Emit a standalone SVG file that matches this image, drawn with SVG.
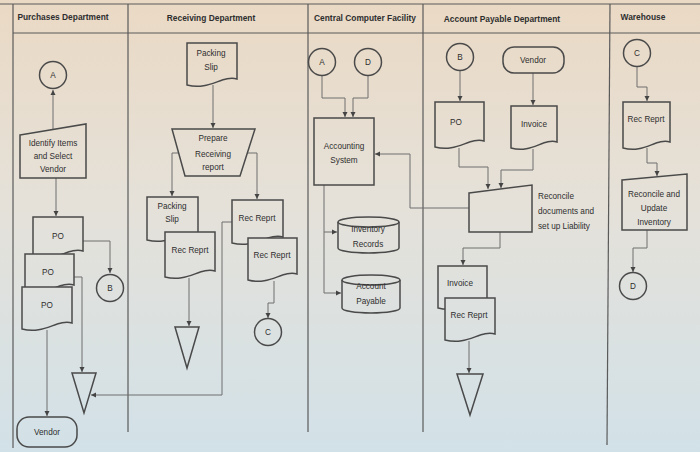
<svg xmlns="http://www.w3.org/2000/svg" width="700" height="452" viewBox="0 0 700 452">
<defs>
<linearGradient id="bg" gradientUnits="userSpaceOnUse" x1="0" y1="0" x2="0" y2="452">
<stop offset="0" stop-color="#ead9c4"/>
<stop offset="0.45" stop-color="#e5e1d9"/>
<stop offset="1" stop-color="#d2e1e8"/>
</linearGradient>
<marker id="ah" markerWidth="6" markerHeight="6" refX="5" refY="3" orient="auto" markerUnits="userSpaceOnUse">
<path d="M0,0.5 L5,3 L0,5.5 Z" fill="#444"/>
</marker>
<style>
.sh{fill:url(#bg);stroke:#4a4a4a;stroke-width:1.5}
.cn{fill:none;stroke:#6e6e6e;stroke-width:1;marker-end:url(#ah)}
.ln{fill:none;stroke:#5a5a5a;stroke-width:1.2}
.t{font-family:"Liberation Sans",Arial,sans-serif;font-size:8.2px;fill:#2e2e2e;text-anchor:middle}
.h{font-family:"Liberation Sans",Arial,sans-serif;font-size:8.4px;font-weight:bold;fill:#2e2e2e;text-anchor:middle}
</style>
</defs>
<rect width="700" height="452" fill="url(#bg)"/>
<g id="lanes">
<line class="ln" x1="0" y1="4" x2="700" y2="4"/>
<line class="ln" x1="13" y1="33" x2="700" y2="33"/>
<line class="ln" x1="13" y1="4" x2="13" y2="448"/>
<line class="ln" x1="128" y1="4" x2="128" y2="432"/>
<line class="ln" x1="308" y1="4" x2="308" y2="432"/>
<line class="ln" x1="423" y1="4" x2="423" y2="432"/>
<line class="ln" x1="610" y1="4" x2="607" y2="445"/>
<text class="h" x="63" y="20">Purchases Department</text>
<text class="h" x="211" y="21">Receiving Department</text>
<text class="h" x="365" y="21">Central Computer Facility</text>
<text class="h" x="502" y="22">Account Payable Department</text>
<text class="h" x="643" y="20">Warehouse</text>
</g>
<g id="connectors">
<polyline class="cn" points="53,130 53,90"/>
<polyline class="cn" points="56,178 56,216"/>
<polyline class="cn" points="83,241 110,241 110,273"/>
<polyline class="cn" points="74,277 82,277 82,372"/>
<polyline class="cn" points="47,330 47,416"/>
<polyline class="cn" points="232,222 222,222 222,395 91,395"/>
<polyline class="cn" points="213,85 213,128"/>
<polyline class="cn" points="179,153 172,153 172,196"/>
<polyline class="cn" points="247,153 257,153 257,199"/>
<polyline class="cn" points="189,278 189,326"/>
<polyline class="cn" points="274,281 274,303 268,303 268,318"/>
<polyline class="cn" points="322,76 322,98 345,98 345,117"/>
<polyline class="cn" points="368,76 368,98 353,98 353,117"/>
<polyline class="cn" points="469,208 410,208 410,154 375,154"/>
<polyline class="cn" points="324,185 324,293 341,293"/>
<polyline class="cn" points="324,232 337,232"/>
<polyline class="cn" points="460,71 460,101"/>
<polyline class="cn" points="533,73 533,105"/>
<polyline class="cn" points="459,148 459,167 488,167 488,189"/>
<polyline class="cn" points="533,149 533,170 501,170 501,188"/>
<polyline class="cn" points="500,232 500,248 463,248 463,265"/>
<polyline class="cn" points="469,341 469,373"/>
<polyline class="cn" points="637,67 637,87 647,87 647,101"/>
<polyline class="cn" points="647,148 647,163 657,163 657,176"/>
<polyline class="cn" points="647,230 647,248 633,248 633,272"/>
</g>
<g id="p-circleA"><circle class="sh" cx="53" cy="75" r="13.5"/><text class="t" x="53" y="78">A</text></g>
<g id="p-identify"><path class="sh" d="M20,135 L86,124 L86,178 L20,178 Z"/><text class="t" x="53" y="146">Identify Items</text><text class="t" x="53" y="159">and Select</text><text class="t" x="53" y="172">Vendor</text></g>
<g id="p-po1"><path class="sh" d="M33,217 H83 V251 C68,247 55.5,263 33,257 Z"/><text class="t" x="58" y="239">PO</text></g>
<g id="p-po2"><path class="sh" d="M25,254 H74 V285 C59.3,281 47,297 25,291 Z"/><text class="t" x="48" y="275">PO</text></g>
<g id="p-po3"><path class="sh" d="M22,287 H72 V323 C57,319 44.5,335 22,329 Z"/><text class="t" x="47" y="308">PO</text></g>
<g id="p-circleB"><circle class="sh" cx="110" cy="288" r="13.5"/><text class="t" x="110" y="291">B</text></g>
<g id="p-file"><path class="sh" d="M72,373 L96,373 L84,413 Z"/></g>
<g id="p-vendor"><rect class="sh" x="17" y="417" width="60" height="30" rx="12"/><text class="t" x="47" y="435">Vendor</text></g>
<g id="r-packing"><path class="sh" d="M187,43 H237 V79 C222,75 209.5,91 187,85 Z"/><text class="t" x="211" y="56">Packing</text><text class="t" x="211" y="70">Slip</text></g>
<g id="r-prepare"><path class="sh" d="M172,129 L255,129 L240,176 L185,176 Z"/><text class="t" x="213" y="141">Prepare</text><text class="t" x="213" y="157">Receiving</text><text class="t" x="213" y="170">report</text></g>
<g id="r-packing2"><path class="sh" d="M147,197 H198 V234 C182.7,230 170,246 147,240 Z"/><text class="t" x="172" y="209">Packing</text><text class="t" x="172" y="222">Slip</text></g>
<g id="r-rec1"><path class="sh" d="M165,232 H215 V271 C200,267 187.5,283 165,277 Z"/><text class="t" x="190" y="253">Rec Reprt</text></g>
<g id="r-file"><path class="sh" d="M175,327 L199,327 L187,368 Z"/></g>
<g id="r-rec2"><path class="sh" d="M232,200 H283 V237 C267.7,233 255,249 232,243 Z"/><text class="t" x="257" y="221">Rec Reprt</text></g>
<g id="r-rec3"><path class="sh" d="M248,238 H297 V274 C282.3,270 270,286 248,280 Z"/><text class="t" x="272" y="258">Rec Reprt</text></g>
<g id="r-circleC"><circle class="sh" cx="268" cy="332" r="13.5"/><text class="t" x="268" y="335">C</text></g>
<g id="c-circleA"><circle class="sh" cx="322" cy="62" r="13.5"/><text class="t" x="322" y="65">A</text></g>
<g id="c-circleD"><circle class="sh" cx="368" cy="62" r="13.5"/><text class="t" x="368" y="65">D</text></g>
<g id="c-accounting"><rect class="sh" x="314" y="118" width="60" height="67"/><text class="t" x="344" y="149">Accounting</text><text class="t" x="344" y="163">System</text></g>
<g id="c-inventory"><path class="sh" d="M338,222 A30.5,5 0 0 1 399,222 V248 A30.5,5 0 0 1 338,248 Z"/><path class="sh" style="fill:none" d="M338,222 A30.5,5 0 0 0 399,222"/><text class="t" x="368" y="232">Inventory</text><text class="t" x="368" y="247">Records</text></g>
<g id="c-payable"><path class="sh" d="M342,280 A29,5 0 0 1 400,280 V308 A29,5 0 0 1 342,308 Z"/><path class="sh" d="M342,280 A29,5 0 0 0 400,280" style="fill:none"/><text class="t" x="371" y="289">Account</text><text class="t" x="371" y="304">Payable</text></g>
<g id="a-circleB"><circle class="sh" cx="460" cy="57" r="13.5"/><text class="t" x="460" y="60">B</text></g>
<g id="a-vendor"><rect class="sh" x="503" y="47" width="61" height="26" rx="11"/><text class="t" x="533" y="63">Vendor</text></g>
<g id="a-po"><path class="sh" d="M435,102 H484 V141 C469.3,137 457,153 435,147 Z"/><text class="t" x="456" y="125">PO</text></g>
<g id="a-invoice"><path class="sh" d="M511,106 H557 V142 C543.2,138 531.7,154 511,148 Z"/><text class="t" x="534" y="127">Invoice</text></g>
<g id="a-reconcile"><path class="sh" d="M469,193 L532,185 L532,232 L469,232 Z"/><text class="t" x="538" y="199" style="text-anchor:start">Reconcile</text><text class="t" x="538" y="214" style="text-anchor:start">documents and</text><text class="t" x="538" y="229" style="text-anchor:start">set up Liability</text></g>
<g id="a-invoice2"><path class="sh" d="M438,266 H487 V302 C472.3,298 460,314 438,308 Z"/><text class="t" x="460" y="286">Invoice</text></g>
<g id="a-rec"><path class="sh" d="M445,298 H495 V334 C480,330 467.5,346 445,340 Z"/><text class="t" x="469" y="318">Rec Reprt</text></g>
<g id="a-file"><path class="sh" d="M457,374 L483,374 L470,415 Z"/></g>
<g id="w-circleC"><circle class="sh" cx="637" cy="53" r="13.5"/><text class="t" x="637" y="56">C</text></g>
<g id="w-rec"><path class="sh" d="M623,102 H670 V142 C655.9,138 644.2,154 623,148 Z"/><text class="t" x="646" y="122">Rec Reprt</text></g>
<g id="w-reconcile"><path class="sh" d="M622,180 L687,174 L687,230 L622,230 Z"/><text class="t" x="654" y="197">Reconcile and</text><text class="t" x="654" y="211">Update</text><text class="t" x="654" y="225">Inventory</text></g>
<g id="w-circleD"><circle class="sh" cx="633" cy="286" r="13.5"/><text class="t" x="633" y="289">D</text></g>
</svg>
